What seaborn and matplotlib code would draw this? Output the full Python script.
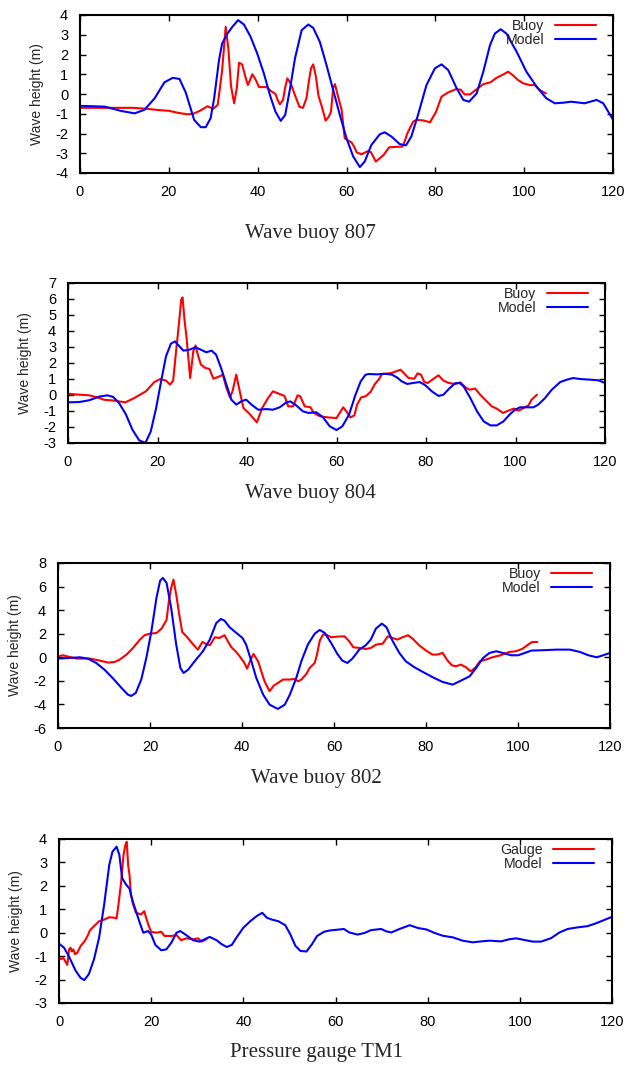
import matplotlib
matplotlib.use("Agg")
import matplotlib.pyplot as plt
import seaborn as sns
import pandas as pd

# ---------------- data ----------------
b807_x = [0, 6, 12, 15, 18, 20, 22, 24.2, 25.5, 27, 28.7, 30, 31, 31.5, 32, 32.4, 32.8, 33.4, 34, 34.7,
          35.3, 35.8, 36.5, 37.2, 37.8, 38.8, 39.6, 40.3, 42, 43, 44, 44.5, 45, 45.7, 46.3, 46.7, 47.5,
          48.3, 49.4, 50.2, 51, 51.5, 52, 52.5, 53.1, 53.7, 54.4, 55.3, 56, 56.5, 57, 57.4, 58.1, 58.9,
          59.6, 60.4, 61.1, 61.7, 62.3, 63.4, 64.9, 65.5, 66.6, 68.3, 69.6, 70.9, 72.6, 73.1, 73.7, 75,
          75.8, 77.3, 78.8, 80.1, 81.4, 82.9, 84.6, 85.7, 86.6, 87.8, 89.3, 90.8, 92.4, 93.8, 95.3, 96.4,
          97.4, 98.6, 99.8, 101.3, 102.4, 103.5, 104.9]
b807_y = [-0.7, -0.7, -0.7, -0.75, -0.82, -0.85, -0.95, -1.03, -1.0, -0.85, -0.62, -0.75, -0.55, 0.3,
          1.2, 2.3, 3.4, 2.3, 0.4, -0.47, 0.3, 1.58, 1.5, 0.9, 0.45, 1.0, 0.7, 0.35, 0.35, 0.15, 0.0,
          -0.3, -0.52, -0.3, 0.45, 0.79, 0.5, 0.0, -0.65, -0.7, -0.2, 0.6, 1.3, 1.5, 0.9, -0.1, -0.6,
          -1.35, -1.15, -0.9, 0.3, 0.5, -0.13, -0.8, -2.24, -2.37, -2.44, -2.66, -2.96, -3.05, -2.88,
          -2.95, -3.42, -3.1, -2.7, -2.68, -2.66, -2.4, -1.99, -1.4, -1.31, -1.34, -1.43, -0.93, -0.13,
          0.08, 0.24, 0.22, -0.02, -0.02, 0.24, 0.5, 0.59, 0.82, 0.99, 1.13, 0.96, 0.71, 0.54, 0.45,
          0.45, 0.2, 0.03]
m807_x = [0, 5.6, 9.3, 12.3, 14.5, 16.8, 19, 20.9, 22.4, 23.8, 25.7, 27.2, 28.3, 29.4, 30.2, 31.3, 32,
          33.2, 34.3, 35.6, 36.9, 38.4, 39.9, 41.4, 42.8, 44, 45.2, 46.2, 47.3, 48.4, 49.9, 51.4, 52.5,
          54, 55.5, 57, 58.5, 60, 61.5, 63, 64.1, 65.6, 67.5, 68.6, 70.1, 72, 73.4, 74.6, 76.1, 78, 79.9,
          81.4, 82.9, 84.8, 86.3, 87.6, 89.3, 90.8, 92.3, 93.4, 94.7, 96, 98.3, 100.5, 102.8, 105, 106.9,
          108.8, 110.6, 113.6, 116.3, 117.8, 120]
m807_y = [-0.6, -0.64, -0.86, -0.98, -0.8, -0.22, 0.59, 0.82, 0.76, 0.08, -1.31, -1.68, -1.68, -1.23,
          -0.22, 1.72, 2.56, 3.06, 3.4, 3.74, 3.52, 2.9, 2.05, 1.04, -0.08, -0.89, -1.36, -1.06, 0.29,
          1.8, 3.23, 3.52, 3.35, 2.64, 1.46, 0.2, -1.06, -2.24, -3.16, -3.7, -3.42, -2.58, -2.04, -1.94,
          -2.15, -2.54, -2.6, -2.15, -1.06, 0.45, 1.3, 1.5, 1.21, 0.29, -0.3, -0.39, 0.03, 1.13, 2.47,
          3.06, 3.28, 3.06, 2.14, 1.13, 0.37, -0.22, -0.47, -0.44, -0.39, -0.47, -0.3, -0.47, -1.3]

b804_x = [0, 2.5, 4.7, 6.6, 8.1, 10.3, 12.8, 14.8, 17.4, 19.3, 20.6, 21.9, 22.8, 23.5, 24.1, 24.7, 25.3,
          25.6, 26, 26.5, 27.3, 28, 28.5, 29, 29.7, 30.7, 31.6, 32.5, 33.9, 34.6, 35.4, 36.2, 36.8, 37.6,
          38.3, 39.2, 40.6, 42.2, 43.4, 44.7, 45.8, 47.3, 48.4, 49.2, 50.3, 51.3, 51.9, 52.9, 54.2, 54.9,
          56.3, 58.1, 60, 61.5, 62.2, 63.1, 64, 64.6, 65.5, 66.5, 67.6, 68.5, 69.4, 70.2, 71.2, 72.4,
          73.3, 74.3, 75, 76.1, 77.4, 78.1, 78.9, 79.6, 80.4, 81.7, 82.8, 83.9, 85.1, 86.5, 87.7, 88.8,
          89.7, 91, 92.1, 93.6, 94.7, 95.8, 97.2, 98.4, 99.6, 100.7, 101.8, 102.9, 103.6, 104.8]
b804_y = [0.08, 0.02, -0.02, -0.15, -0.3, -0.35, -0.46, -0.19, 0.23, 0.81, 1.0, 0.9, 0.65, 0.9, 2.6,
          4.2, 5.96, 6.1, 4.8, 3.56, 1.06, 2.73, 3.1, 2.52, 1.9, 1.69, 1.63, 1.02, 1.17, 1.27, 0.44,
          -0.15, 0.27, 1.27, 0.33, -0.81, -1.19, -1.71, -0.81, -0.19, 0.23, 0.06, -0.06, -0.71, -0.71,
          -0.02, -0.08, -0.71, -0.77, -1.12, -1.33, -1.4, -1.44, -0.77, -1.02, -1.4, -1.27, -0.6, -0.15,
          -0.08, 0.19, 0.65, 0.96, 1.31, 1.33, 1.38, 1.48, 1.58, 1.38, 1.06, 1.02, 1.35, 1.27, 0.81,
          0.75, 1.02, 1.23, 0.9, 0.75, 0.69, 0.79, 0.48, 0.33, 0.4, 0.02, -0.4, -0.71, -0.85, -1.12,
          -0.98, -0.85, -0.98, -0.81, -0.65, -0.29, 0.02]
m804_x = [0, 2.5, 4.7, 7, 8.8, 10.1, 11.4, 12.9, 14.4, 15.9, 17.3, 18.5, 19.7, 20.8, 21.9, 23, 23.9,
          24.7, 25.8, 27.1, 28.5, 29.7, 30.9, 32.1, 33.1, 34.2, 35.4, 36.5, 37.6, 38.7, 39.8, 41, 42.5,
          44.3, 45.8, 47.3, 48.8, 49.7, 51, 52.5, 53.7, 55.5, 57, 58.5, 60, 61.3, 62.8, 64.2, 65.4, 66.5,
          67.2, 69.1, 70.9, 72.4, 73.5, 74.6, 75.8, 77.1, 78.6, 79.9, 81.3, 82.8, 83.9, 85.1, 86.5, 87.5,
          88.4, 89.9, 91.4, 92.9, 94.4, 95.8, 97.3, 98.8, 99.9, 101, 102.5, 104, 105.1, 106.6, 108.1,
          110, 111.5, 112.9, 114.4, 116.6, 118.5, 120]
m804_y = [-0.46, -0.44, -0.33, -0.1, -0.02, -0.12, -0.5, -1.19, -2.17, -2.83, -3.0, -2.27, -0.81, 0.85,
          2.42, 3.21, 3.35, 3.1, 2.77, 2.83, 2.98, 2.83, 2.67, 2.77, 2.52, 1.69, 0.65, -0.29, -0.6, -0.4,
          -0.29, -0.6, -0.92, -0.88, -0.92, -0.77, -0.46, -0.4, -0.65, -1.02, -1.12, -1.08, -1.4, -1.96,
          -2.19, -1.96, -1.23, -0.02, 0.85, 1.27, 1.31, 1.29, 1.33, 1.27, 1.1, 0.85, 0.69, 0.75, 0.81,
          0.6, 0.23, -0.06, 0.02, 0.38, 0.73, 0.75, 0.54, -0.19, -1.02, -1.65, -1.9, -1.9, -1.65, -1.19,
          -0.92, -0.77, -0.77, -0.77, -0.6, -0.19, 0.33, 0.81, 0.96, 1.06, 1.0, 0.96, 0.92, 0.75]

b802_x = [0, 1.1, 2.2, 4, 6.9, 9.1, 10.9, 12.3, 13.4, 14.9, 16.3, 17.8, 18.8, 19.9, 21.4, 22.5, 23.6,
          24.1, 24.6, 25.1, 25.7, 26.3, 27, 27.9, 29.3, 30.4, 31.4, 32.2, 33, 34.1, 35.1, 36.2, 37, 37.7,
          38.6, 39.5, 40.4, 41.1, 41.8, 42.5, 43.5, 44.2, 44.9, 46, 46.9, 47.8, 48.9, 50.4, 51.4, 52.2,
          52.9, 54, 54.7, 55.8, 56.3, 56.9, 57.6, 58.3, 59.4, 60.6, 62.3, 63.3, 64.2, 65.5, 67, 68,
          69.1, 70.6, 71.7, 72.7, 73.8, 74.9, 76.1, 77.1, 78.5, 80, 81.4, 82.5, 83.6, 84.7, 85.6, 86.5,
          87.6, 88.7, 89.7, 90.8, 91.7, 93, 94.4, 96.2, 98.1, 99.5, 100.9, 102.4, 103.1, 104.2]
b802_y = [0.08, 0.17, 0.06, -0.11, -0.11, -0.28, -0.45, -0.4, -0.2, 0.23, 0.79, 1.5, 1.87, 2.0, 2.06,
          2.43, 3.17, 4.75, 5.88, 6.59, 5.32, 3.76, 2.15, 1.78, 1.13, 0.65, 1.3, 1.13, 1.02, 1.7, 1.64,
          1.87, 1.3, 0.85, 0.51, 0.08, -0.4, -0.96, -0.28, 0.28, -0.34, -1.19, -2.04, -2.88, -2.4, -2.18,
          -1.89, -1.89, -1.84, -2.04, -1.89, -1.41, -0.9, -0.48, 0.23, 1.41, 1.92, 1.92, 1.7, 1.75, 1.78,
          1.36, 0.85, 0.79, 0.71, 0.79, 1.07, 1.16, 1.78, 1.64, 1.5, 1.7, 1.87, 1.58, 1.02, 0.57, 0.23,
          0.23, 0.37, -0.28, -0.68, -0.76, -0.62, -0.85, -1.19, -0.85, -0.34, -0.2, 0.0, 0.17, 0.45,
          0.51, 0.71, 1.13, 1.3, 1.3]
m802_x = [0, 2.5, 4.7, 6.5, 8.3, 10.1, 12, 13.8, 15.2, 15.9, 16.9, 18.1, 19.2, 20.3, 21.4, 22.2, 22.8,
          23.6, 24.6, 25.7, 26.6, 27.3, 28.3, 29.7, 31.5, 33, 34.4, 35.4, 36.2, 37.3, 38.8, 40.1, 40.9,
          42, 43.1, 44.6, 46, 47.8, 49.3, 50.4, 51.8, 52.9, 54.3, 55.8, 56.9, 58, 59.4, 60.7, 61.8, 62.9,
          64, 65.5, 66.9, 68, 69.1, 70.4, 71.4, 72.7, 74.2, 75.6, 77.5, 79.3, 81.5, 83.6, 85.8, 87.6,
          89.5, 90.9, 92.4, 93.8, 95.3, 96.7, 98.5, 100, 101.5, 102.9, 104.7, 108.4, 111.3, 113.5, 115.3,
          117.1, 118.5, 120]
m802_y = [-0.11, -0.06, 0.0, -0.11, -0.48, -1.05, -1.81, -2.6, -3.17, -3.28, -3.03, -1.89, -0.06, 2.2,
          5.03, 6.5, 6.73, 6.31, 4.19, 1.07, -0.9, -1.33, -1.05, -0.34, 0.51, 1.5, 2.9, 3.25, 3.11, 2.55,
          2.06, 1.64, 1.07, -0.28, -1.75, -3.17, -4.02, -4.38, -4.02, -3.17, -1.75, -0.34, 1.07, 2.0,
          2.32, 2.06, 1.2, 0.3, -0.28, -0.48, -0.11, 0.65, 1.02, 1.5, 2.43, 2.86, 2.55, 1.41, 0.37,
          -0.34, -0.85, -1.24, -1.7, -2.09, -2.32, -1.98, -1.61, -0.9, -0.06, 0.37, 0.51, 0.37, 0.17,
          0.17, 0.37, 0.57, 0.59, 0.65, 0.65, 0.45, 0.17, 0.0, 0.17, 0.37]

gtm1_x = [0, 0.5, 0.9, 1.5, 1.8, 2.2, 2.5, 2.8, 3.1, 3.5, 4, 4.7, 5.5, 6.2, 6.7, 7.6, 8.7, 9.8, 10.9,
          12, 12.5, 12.9, 13.5, 14, 14.4, 14.7, 15, 15.3, 15.6, 16.1, 16.7, 17.8, 18.5, 18.9, 19.5, 20,
          21.1, 22.2, 22.9, 24.4, 25.5, 26.5, 27.6, 29.1, 30.2, 30.9, 32]
gtm1_y = [-1.06, -1.13, -1.06, -1.27, -1.37, -0.71, -0.64, -0.8, -0.71, -0.92, -0.85, -0.56, -0.38,
          -0.14, 0.1, 0.28, 0.49, 0.56, 0.66, 0.64, 0.61, 1.2, 2.19, 3.32, 3.74, 3.88, 2.89, 2.47, 1.62,
          1.2, 0.85, 0.78, 0.92, 0.64, 0.28, 0.04, 0.0, 0.04, -0.14, -0.14, -0.1, -0.32, -0.24, -0.28,
          -0.24, -0.38, -0.28]
mtm1_x = [0, 1.1, 2.2, 3.6, 4.7, 5.5, 6.5, 7.6, 8.7, 9.8, 10.9, 11.6, 12.5, 13.1, 13.7, 14.5, 15.3, 16,
          16.7, 17.6, 18.3, 19.3, 20, 20.9, 22.2, 23.3, 24.4, 25.5, 26.3, 27.6, 29.1, 30.5, 31.6, 32.7,
          34.2, 35.3, 36.4, 37.5, 38.5, 40, 41.5, 42.9, 44.1, 45.1, 46.2, 47.6, 49.1, 50.2, 51.3, 52.4,
          53.7, 54.9, 56, 57.5, 58.9, 60.5, 61.8, 63, 64.8, 66.3, 67.7, 69.9, 71, 72.1, 73.9, 76.1, 77.9,
          79.7, 81.5, 83.3, 85.5, 87.6, 89.8, 91.6, 93.4, 95.9, 97.7, 99.2, 101, 102.8, 104.6, 106.8,
          108.6, 110.4, 112.6, 114.7, 116.5, 118.4, 120]
mtm1_y = [-0.47, -0.64, -1.03, -1.62, -1.93, -2.02, -1.76, -1.13, -0.21, 1.2, 2.89, 3.46, 3.67, 3.32,
          2.33, 2.07, 1.88, 1.34, 0.92, 0.38, 0.0, 0.07, -0.07, -0.52, -0.75, -0.71, -0.42, 0.0, 0.07,
          -0.1, -0.32, -0.38, -0.28, -0.18, -0.32, -0.49, -0.61, -0.52, -0.21, 0.21, 0.49, 0.71, 0.85,
          0.64, 0.56, 0.49, 0.32, -0.07, -0.56, -0.78, -0.8, -0.49, -0.14, 0.04, 0.1, 0.13, 0.16, 0.01,
          -0.08, -0.01, 0.11, 0.16, 0.06, 0.01, 0.16, 0.32, 0.2, 0.14, -0.01, -0.13, -0.2, -0.34, -0.41,
          -0.37, -0.34, -0.37, -0.28, -0.24, -0.31, -0.38, -0.38, -0.23, 0.01, 0.16, 0.23, 0.28, 0.4,
          0.55, 0.68]

titles = ["Wave buoy 807", "Wave buoy 804", "Wave buoy 802", "Pressure gauge TM1"]
obs_labels = ["Buoy", "Buoy", "Buoy", "Gauge"]
model_label = "Model"
ylabel = "Wave height (m)"
xticks = [0, 20, 40, 60, 80, 100, 120]
ylims = [(-4, 4), (-3, 7), (-6, 8), (-3, 4)]
ysteps = [1, 1, 2, 1]

panels = [
    (b807_x, b807_y, m807_x, m807_y),
    (b804_x, b804_y, m804_x, m804_y),
    (b802_x, b802_y, m802_x, m802_y),
    (gtm1_x, gtm1_y, mtm1_x, mtm1_y),
]

# ---------------- style ----------------
sns.set_theme(style="ticks")
plt.rcParams['font.family'] = ['Liberation Sans', 'DejaVu Sans']
plt.rcParams['axes.unicode_minus'] = False

W, H = 628, 1069
fig = plt.figure(figsize=(W / 100, H / 100), dpi=100)

# axes boxes in pixels: left, right, top, bottom
boxes = [(80, 613, 15, 173), (68, 605, 283, 443), (58, 610, 563, 728), (59, 612, 839, 1003)]
title_pos = [(310, 233), (310, 493), (316, 779), (316, 1053)]

FS_TICK = 10.5
FS_LEG = 10.2
FS_LAB = 10.0
for i, (bx, by, mx, my) in enumerate(panels):
    l, r, t, b = boxes[i]
    ax = fig.add_axes([l / W, 1 - b / H, (r - l) / W, (b - t) / H])
    obs = pd.DataFrame({"t": bx, "h": by})
    mod = pd.DataFrame({"t": mx, "h": my})
    sns.lineplot(data=obs, x="t", y="h", ax=ax, color="#ff0000", lw=1.5,
                 sort=False, estimator=None, label=obs_labels[i])
    sns.lineplot(data=mod, x="t", y="h", ax=ax, color="#0000ff", lw=1.5,
                 sort=False, estimator=None, label=model_label)
    ax.set_xlim(0, 120)
    lo, hi = ylims[i]
    ax.set_ylim(lo, hi)
    ax.set_xticks(xticks)
    ax.set_yticks(list(range(lo, hi + 1, ysteps[i])))
    ax.set_xlabel("")
    ax.set_ylabel(ylabel, fontsize=FS_LAB, labelpad=8)
    ax.tick_params(direction="in", length=4.5, width=1.0, top=True, right=True,
                   labelsize=FS_TICK, colors="black")
    ax.tick_params(axis="x", pad=8.5)
    ax.tick_params(axis="y", pad=8.5)
    for s in ax.spines.values():
        s.set_linewidth(1.5)
        s.set_color("black")
    ax.legend(loc="upper right", bbox_to_anchor=(0.968, 0.975), frameon=False,
              markerfirst=False, handlelength=2.9, handletextpad=0.75,
              labelspacing=0.02, borderpad=0, borderaxespad=0, fontsize=FS_LEG)
    tx, ty = title_pos[i]
    fig.text(tx / W, 1 - ty / H, titles[i], ha="center", va="center",
             fontsize=15, family=["Liberation Serif", "DejaVu Serif"])

fig.savefig("out.png", dpi=100)
